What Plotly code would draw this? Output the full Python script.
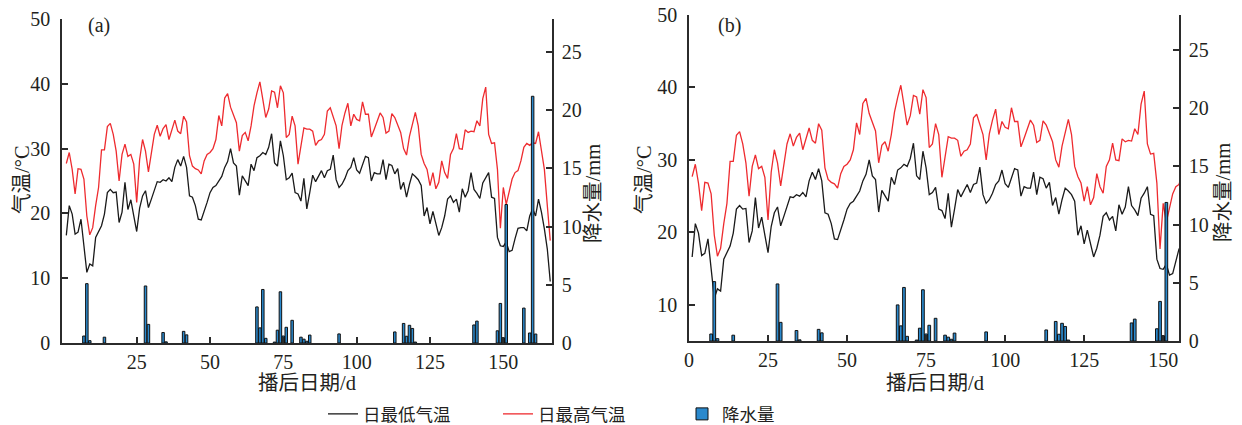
import plotly.graph_objects as go

# Daily minimum / maximum air temperature (°C), days 1..166 after sowing
days = list(range(1, 167))

t_min = [
    16.6, 21.2, 19.9, 16.8, 17.1, 19.1, 15.0, 10.9, 12.2, 11.9,
    16.3, 17.1, 18.1, 19.9, 23.2, 23.7, 23.2, 23.3, 18.6, 20.2,
    24.8, 20.6, 22.1, 19.6, 17.2, 20.8, 22.7, 23.5, 20.9, 22.2,
    23.5, 24.9, 24.8, 25.2, 25.0, 25.5, 24.9, 27.1, 28.3, 27.3,
    28.8, 27.1, 22.7, 22.5, 21.2, 19.1, 19.0, 20.2, 21.7, 23.2,
    24.0, 24.3, 25.0, 25.7, 27.1, 28.0, 30.0, 27.8, 27.3, 22.8,
    25.8, 25.0, 24.3, 27.6, 26.6, 28.6, 28.9, 29.4, 29.1, 30.2,
    32.3, 27.8, 27.3, 31.2, 28.9, 25.2, 25.5, 26.2, 23.2, 23.0,
    21.9, 25.4, 20.7, 23.2, 25.9, 24.9, 25.7, 26.6, 25.5, 26.6,
    26.8, 29.0, 25.2, 24.0, 24.5, 25.4, 26.6, 27.1, 28.6, 26.7,
    26.2, 27.4, 28.8, 28.6, 25.0, 26.3, 26.1, 26.1, 28.3, 25.2,
    27.6, 27.4, 26.1, 26.9, 23.7, 24.8, 22.5, 24.5, 26.1, 25.7,
    25.2, 24.3, 19.6, 20.9, 18.4, 20.3, 18.4, 16.6, 17.8, 19.6,
    22.2, 22.7, 21.7, 22.2, 20.2, 23.8, 22.5, 23.5, 26.3, 23.7,
    23.1, 22.3, 24.7, 25.4, 26.3, 22.5, 22.3, 16.3, 15.0, 14.9,
    15.6, 14.1, 14.3, 16.1, 17.7, 17.8, 17.8, 17.3, 19.6, 20.7,
    19.6, 22.2, 20.2, 17.6, 14.5, 9.5,
]

t_max = [
    27.7, 29.4, 26.8, 23.0, 26.9, 26.8, 25.3, 19.6, 16.7, 17.8,
    21.2, 24.0, 29.8, 29.8, 33.4, 33.9, 32.2, 29.6, 25.0, 29.1,
    30.7, 28.8, 29.1, 27.6, 21.7, 28.3, 31.4, 29.6, 26.4, 29.4,
    32.2, 33.6, 31.9, 33.1, 33.7, 31.4, 32.9, 34.4, 32.7, 32.3,
    35.0, 34.1, 28.9, 27.3, 26.9, 26.7, 26.1, 28.1, 29.1, 29.4,
    30.0, 31.4, 35.1, 33.5, 37.8, 38.5, 36.4, 35.3, 34.0, 29.6,
    32.0, 32.5, 31.2, 33.5, 36.6, 38.6, 40.3, 37.6, 34.8, 36.1,
    38.9, 38.7, 36.3, 39.7, 38.6, 31.7, 32.2, 35.0, 33.5, 27.6,
    30.4, 33.2, 33.0, 33.0, 32.7, 30.5, 31.2, 31.4, 32.2, 35.8,
    36.3, 35.0, 33.5, 30.0, 33.6, 35.5, 37.0, 33.5, 35.3, 34.5,
    34.3, 37.2, 35.3, 35.3, 31.8, 33.0, 34.3, 35.5, 34.8, 32.4,
    32.7, 35.4, 34.8, 33.7, 32.5, 30.0, 29.0, 31.9, 33.7, 35.6,
    33.5, 29.1, 27.7, 26.8, 24.3, 26.3, 23.8, 24.8, 28.1, 26.3,
    25.4, 29.1, 30.0, 32.3, 30.0, 29.9, 32.9, 32.5, 32.7, 32.6,
    34.3, 33.5, 37.7, 39.5, 32.2, 30.8, 30.9, 26.8, 17.7, 24.0,
    21.4, 23.2, 25.3, 26.3, 26.6, 28.1, 30.2, 30.8, 30.5, 30.9,
    30.8, 32.6, 29.9, 26.8, 21.2, 15.8,
]

# Daily precipitation (mm) on rainy days
rain_days = [7, 8, 9, 14, 28, 29, 34, 35, 41, 42,
             66, 67, 68, 69, 72, 73, 74, 75, 76, 78,
             81, 82, 83, 84, 94, 113, 116, 117, 118, 119,
             120, 140, 141, 148, 149, 150, 151, 157, 159, 160, 161]
rain_mm = [0.6, 5.1, 0.2, 0.5, 4.9, 1.6, 0.9, 0.1, 1.0, 0.7,
           3.1, 1.3, 4.6, 0.4, 0.08, 1.1, 4.4, 0.6, 1.35, 1.95,
           0.5, 0.33, 0.15, 0.68, 0.78, 0.95, 1.68, 0.58, 1.52, 1.25,
           0.08, 1.55, 1.88, 1.05, 3.4, 0.45, 11.9, 3.0, 0.86, 21.2, 0.77]

ticks_a = [25, 50, 75, 100, 125, 150]
ticks_b = [0, 25, 50, 75, 100, 125, 150]

W, H = 1242, 425
RED = "#ee2b2f"
BLACK = "#1a1a1a"
BLUE = "#2a89cd"
AXIS = "#2b2b2b"
SERIF = "Liberation Serif, Noto Sans CJK SC, serif"
CJK = "Liberation Serif, Noto Sans CJK SC, sans-serif"


def px_x(p):
    return p / W


def px_y(p):
    return 1 - p / H


fig = go.Figure()

panels = [
    dict(x="x", y="y", y2="y2", show=True),
    dict(x="x2", y="y3", y2="y4", show=False),
]
for p in panels:
    fig.add_trace(go.Scatter(
        x=days, y=t_min, mode="lines", name="日最低气温",
        line=dict(color=BLACK, width=1.3), xaxis=p["x"], yaxis=p["y"],
        showlegend=p["show"], legend="legend"))
    fig.add_trace(go.Scatter(
        x=days, y=t_max, mode="lines", name="日最高气温",
        line=dict(color=RED, width=1.3), xaxis=p["x"], yaxis=p["y"],
        showlegend=p["show"], legend="legend2"))
    fig.add_trace(go.Bar(
        x=rain_days, y=rain_mm, name="降水量", width=0.85,
        marker=dict(color=BLUE, line=dict(color="#111111", width=1)),
        xaxis=p["x"], yaxis=p["y2"], showlegend=p["show"], legend="legend3"))

tickfont = dict(family=SERIF, size=20, color="#231f20")
axis_common = dict(
    showline=True, linecolor=AXIS, linewidth=1.5, showgrid=False,
    zeroline=False, ticks="inside", ticklen=6, tickwidth=1.5,
    tickcolor=AXIS, tickfont=tickfont, mirror=False, automargin=False,
)

fig.update_layout(
    width=W, height=H, autosize=False,
    margin=dict(l=0, r=0, t=0, b=0, autoexpand=False),
    paper_bgcolor="white", plot_bgcolor="white",
    xaxis=dict(axis_common, domain=[px_x(62), px_x(552)], anchor="y",
               range=[-0.47, 166.6], tickmode="array", tickvals=ticks_a,
               ticklabelstandoff=0),
    yaxis=dict(axis_common, domain=[px_y(343), px_y(19)], anchor="x",
               range=[0, 50], tickmode="array",
               tickvals=[0, 10, 20, 30, 40, 50], ticklabelstandoff=6),
    yaxis2=dict(axis_common, overlaying="y", side="right", anchor="x",
                range=[0, 27.84], tickmode="array",
                tickvals=[0, 5, 10, 15, 20, 25], ticklabelstandoff=4),
    xaxis2=dict(axis_common, domain=[px_x(689), px_x(1179)], anchor="y3",
                range=[0, 155], tickmode="array", tickvals=ticks_b,
                ticklabelstandoff=0),
    yaxis3=dict(axis_common, domain=[px_y(341), px_y(15)], anchor="x2",
                range=[5, 50], tickmode="array",
                tickvals=[10, 20, 30, 40, 50], ticklabelstandoff=6),
    yaxis4=dict(axis_common, overlaying="y3", side="right", anchor="x2",
                range=[0, 28], tickmode="array",
                tickvals=[0, 5, 10, 15, 20, 25], ticklabelstandoff=4),
    bargap=0.1,
)

legend_font = dict(family=CJK, size=17.5, color="#231f20")
for name, xpos in [("legend", 323), ("legend2", 498), ("legend3", 682)]:
    fig.update_layout({name: dict(
        x=px_x(xpos), y=px_y(414), xanchor="left", yanchor="middle",
        orientation="h", font=legend_font, bgcolor="rgba(0,0,0,0)",
        borderwidth=0)})

title_font = dict(family=CJK, size=20.5, color="#231f20")
annotations = [
    ("气温/°C", 22, 180, -90),
    ("降水量/mm", 593, 194, -90),
    ("气温/°C", 644, 180, -90),
    ("降水量/mm", 1223, 193, -90),
    ("播后日期/d", 307, 383, 0),
    ("播后日期/d", 935, 383, 0),
]
for text, ax, ay, ang in annotations:
    fig.add_annotation(text=text, x=px_x(ax), y=px_y(ay), xref="paper",
                       yref="paper", showarrow=False, textangle=ang,
                       font=title_font, xanchor="center", yanchor="middle")

for text, ax, ay in [("(a)", 99, 26), ("(b)", 729, 25)]:
    fig.add_annotation(text=text, x=px_x(ax), y=px_y(ay), xref="paper",
                       yref="paper", showarrow=False,
                       font=dict(family=SERIF, size=20, color="#231f20"),
                       xanchor="center", yanchor="middle")

fig.write_html("out.html")
